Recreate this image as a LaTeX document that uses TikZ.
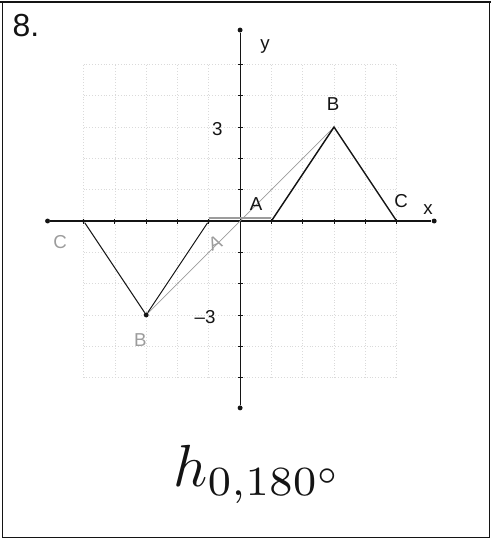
\documentclass[tikz,border=0pt]{standalone}
\usepackage{fontspec}
\setmainfont{Liberation Sans}
\usetikzlibrary{calc,positioning}
\definecolor{Ink}{HTML}{141414}
\definecolor{Pencil}{HTML}{9C9C9C}
\definecolor{GridDot}{HTML}{DADADA}

\begin{document}
\begin{tikzpicture}[x=1cm,y=1cm,
    lbl/.style={font=\fontsize{17}{17}\selectfont,text=Ink,inner sep=0pt},
    faint/.style={font=\fontsize{17}{17}\selectfont,text=Pencil,inner sep=0pt},
    vtx/.style={circle,fill=Ink,inner sep=0pt,minimum size=4.5pt}]
    \useasboundingbox (-7.67,-10.19) rectangle (8.02,7.06);
    % frame
    \draw[Ink,line width=0.8pt] (-7.6,-10.12) rectangle (7.95,7.0);
    \draw[Ink,line width=2pt] (-7.67,7.0) -- (8.02,7.0);
    % grid
    \foreach \k in {-5,...,5}{
      \draw[GridDot,dotted,line width=0.6pt] (-5,\k) -- (5,\k);
      \draw[GridDot,dotted,line width=0.6pt] (\k,-5) -- (\k,5);
    }
    % axes
    \node[vtx] (xl) at (-6.15,0) {};
    \node[vtx] (xr) at (6.2,0) {};
    \node[vtx] (yt) at (0,6.1) {};
    \node[vtx] (yb) at (0,-5.97) {};
    \draw[Ink,line width=1.4pt] (xl) -- (xr);
    \draw[Ink,line width=1pt] (yb) -- (yt);
    \foreach \k in {-5,...,5}{
      \draw[Ink,line width=0.7pt] (\k,-0.08) -- (\k,0.08);
      \draw[Ink,line width=0.7pt] (-0.08,\k) -- (0.08,\k);
    }
    % rotation guide lines
    \coordinate (O) at (0,0);
    \coordinate (A) at (1,0);
    \coordinate (B) at (3,3);
    \coordinate (C) at (5,0);
    \node[vtx,minimum size=3.5pt] (A2) at (-1,0) {};
    \node[vtx] (B2) at (-3,-3) {};
    \node[vtx,minimum size=3.5pt] (C2) at (-5,0) {};
    \draw[Pencil,line width=0.7pt] (B) -- (O) -- (B2);
    \draw[Pencil,line width=1.2pt] ($(A2)+(0,0.1)$) -- ($(A)+(0,0.1)$);
    % original triangle
    \draw[Ink,line width=1.3pt] (A) -- (B) -- (C) -- cycle;
    % image triangle
    \draw[Ink,line width=0.9pt] (A2) -- (B2) -- (C2);
    \draw[Ink,line width=1.6pt] (C2) -- (A2);
    % labels
    \node[font=\fontsize{29}{29}\selectfont,text=Ink,inner sep=0pt] (num) at (-6.84,6.26) {8.};
    \node[lbl] (ylab) at (0.8,5.56) {y};
    \node[lbl] (xlab) at (6.0,0.38) {x};
    \node[lbl] (three) at (-0.73,2.94) {3};
    \node[lbl] (mthree) at (-1.12,-3.07) {\textendash3};
    \node[lbl] (Blab) at (2.97,3.74) {B};
    \node[lbl] (Clab) at (5.14,0.64) {C};
    \node[lbl] (Alab) at (0.51,0.54) {A};
    \node[faint] (B2lab) at (-3.19,-3.8) {B};
    \node[faint] (C2lab) at (-5.75,-0.67) {C};
    \node[faint,rotate=25] (A2lab) at (-0.8,-0.7) {A};
    % rule
    \node[text=Ink,inner sep=0pt,scale=5.4] (rule) at (0.6,-8.1)
      {$h_{0,180^{\circ}}$};
  \end{tikzpicture}
\end{document}
